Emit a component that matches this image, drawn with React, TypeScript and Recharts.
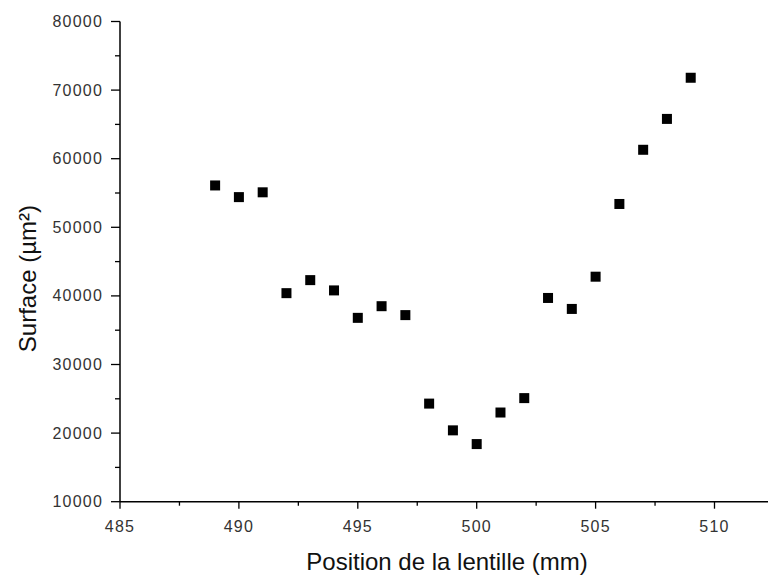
import React from "react";
import { ScatterChart, Scatter, XAxis, YAxis, Label } from "recharts";

// lens position (mm)
const positions = [
  489, 490, 491, 492, 493, 494, 495, 496, 497, 498, 499, 500, 501, 502, 503,
  504, 505, 506, 507, 508, 509,
];
// surface (µm²)
const surfaces = [
  56100, 54400, 55100, 40400, 42300, 40800, 36800, 38500, 37200, 24300, 20400,
  18400, 23000, 25100, 39700, 38100, 42800, 53400, 61300, 65800, 71800,
];

const xTicks = [485, 487.5, 490, 492.5, 495, 497.5, 500, 502.5, 505, 507.5, 510];
const yTicks = [
  10000, 15000, 20000, 25000, 30000, 35000, 40000, 45000, 50000, 55000, 60000,
  65000, 70000, 75000, 80000,
];

const data = positions.map((x, i) => ({ x, y: surfaces[i] }));

const tickFont = {
  fontFamily: "'Liberation Sans', Arial, sans-serif",
  fontSize: 16,
  letterSpacing: 1.2,
  fill: "#333",
};

const XTick = (props: any) => {
  const { x, y, payload } = props;
  const major = payload.value % 5 === 0;
  return (
    <g>
      <line x1={x} x2={x} y1={y} y2={y + (major ? 7 : 4)} stroke="#000" strokeWidth={1.3} />
      {major && (
        <text x={x} y={y + 30} textAnchor="middle" {...tickFont}>
          {payload.value}
        </text>
      )}
    </g>
  );
};

const YTick = (props: any) => {
  const { x, y, payload } = props;
  const major = payload.value % 10000 === 0;
  return (
    <g>
      <line x1={x - (major ? 9 : 5)} x2={x} y1={y} y2={y} stroke="#000" strokeWidth={1.3} />
      {major && (
        <text x={x - 17} y={y + 5.5} textAnchor="end" {...tickFont}>
          {payload.value}
        </text>
      )}
    </g>
  );
};

const titleFont = {
  fontFamily: "'Liberation Sans', Arial, sans-serif",
  fontSize: 24,
  fill: "#111",
};

const Square = (props: any) => {
  const { cx, cy } = props;
  return <rect x={cx - 5} y={cy - 5} width={10} height={10} fill="#000" />;
};

export default function App() {
  return (
    <div style={{ position: "absolute", left: 0, top: 0, background: "#fff" }}>
      <ScatterChart
        width={768}
        height={575}
        margin={{ top: 21.5, right: 0, left: 0, bottom: 0 }}
      >
        <XAxis
          type="number"
          dataKey="x"
          domain={[485, 512.25]}
          ticks={xTicks}
          interval={0}
          height={73.3}
          tickSize={0}
          tickMargin={0}
          tickLine={false}
          tick={<XTick />}
          axisLine={{ stroke: "#000", strokeWidth: 1.5 }}
          allowDataOverflow
        >
          <Label
            content={(p: any) => {
              const vb = p.viewBox;
              return (
                <text x={447} y={vb.y + 68} textAnchor="middle" {...titleFont}>
                  Position de la lentille (mm)
                </text>
              );
            }}
          />
        </XAxis>
        <YAxis
          type="number"
          dataKey="y"
          domain={[10000, 80000]}
          ticks={yTicks}
          interval={0}
          width={120}
          tickSize={0}
          tickMargin={0}
          tickLine={false}
          tick={<YTick />}
          axisLine={{ stroke: "#000", strokeWidth: 1.5 }}
        >
          <Label
            content={(p: any) => {
              const vb = p.viewBox;
              const cx = vb.x + 36;
              const cy = vb.y + vb.height / 2 + 17;
              return (
                <text
                  x={cx}
                  y={cy}
                  textAnchor="middle"
                  transform={`rotate(-90, ${cx}, ${cy})`}
                  {...titleFont}
                >
                  Surface (µm²)
                </text>
              );
            }}
          />
        </YAxis>
        <Scatter data={data} shape={<Square />} isAnimationActive={false} />
      </ScatterChart>
    </div>
  );
}
